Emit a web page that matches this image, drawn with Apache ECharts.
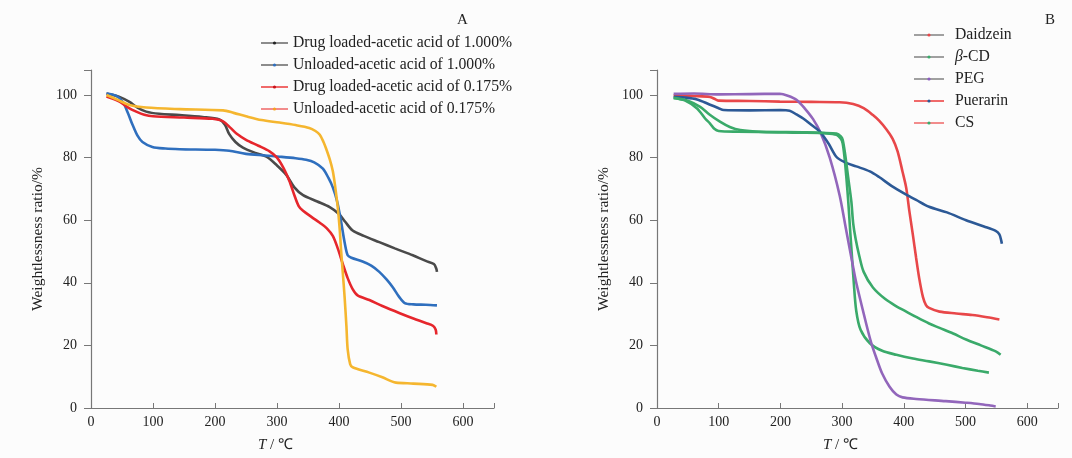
<!DOCTYPE html>
<html>
<head>
<meta charset="utf-8">
<script src="https://cdn.jsdelivr.net/npm/echarts@6/dist/echarts.min.js"></script>
<style>
html, body { margin: 0; padding: 0; background: #ffffff; }
#chart { width: 1072px; height: 458px; }
</style>
</head>
<body>
<div id="chart"></div>
<script>
// 图 A
const namesA = ["Drug loaded-acetic acid of 1.000%", "Unloaded-acetic acid of 1.000%", "Drug loaded-acetic acid of 0.175%", "Unloaded-acetic acid of 0.175%"];
const drugLoaded1000 = [[25,100.5],[45,99.5],[62,97.8],[75,96],[89,94.7],[110,94],[143,93.6],[180,93],[207,92.2],[216,90.5],[223,87.5],[233,85],[245,83.2],[265,81.5],[283,80.3],[300,77.5],[315,74.5],[328,70.5],[342,68],[365,66],[385,64.2],[400,62],[410,59.5],[422,56.7],[440,55],[465,53],[490,51],[519,48.8],[540,47],[553,46],[557,44.5],[558,43.5]];
const unloaded1000 = [[25,100.5],[40,99.8],[51,97.9],[60,94],[67,90.5],[75,87],[83,85],[99,83.4],[120,82.9],[143,82.7],[200,82.5],[223,82.2],[250,81.2],[280,80.7],[304,80.3],[330,79.8],[347,79.3],[360,78.5],[374,76.5],[383,73.5],[390,70.5],[397,66],[403,60],[409,53],[414,48.8],[420,48],[438,46.8],[452,45.5],[465,43.5],[477,41],[487,38.5],[497,35.5],[506,33.5],[520,33.1],[540,33],[558,32.8]];
const drugLoaded0175 = [[25,99.5],[46,97.9],[60,96],[73,94.7],[86,93.7],[100,93.2],[150,92.8],[196,92.4],[213,91.6],[225,89.5],[234,87.8],[250,85.7],[270,83.8],[288,82],[300,80],[311,76.5],[320,72.5],[328,68],[335,64.5],[342,63],[356,61],[369,59.2],[380,57.5],[390,55],[398,51],[406,46.1],[414,41.5],[422,38],[430,36],[449,34.5],[470,32.6],[498,30.3],[520,28.6],[541,27.1],[552,26.2],[556,25],[557,23.5]];
const unloaded0175 = [[25,100],[45,98.3],[62,96.8],[89,96],[143,95.5],[213,95.1],[230,94.3],[250,93.2],[275,92],[304,91.2],[330,90.4],[352,89.5],[362,88.5],[369,87.3],[375,85],[379,83],[385,79.5],[390,75.7],[394,70.5],[398,64.1],[401,57.5],[403,51.4],[406,43.5],[409,35.6],[412,26],[414,18.7],[418,14],[422,13],[449,11.3],[470,9.8],[485,8.5],[492,8.1],[520,7.8],[551,7.4],[557,6.8]];

// 图 B
const namesB = ["Daidzein", "β-CD", "PEG", "Puerarin", "CS"];
const daidzein = [[27,99.9],[60,99.7],[86,99.4],[95,98.6],[100,98.2],[150,98.1],[199,97.9],[250,97.8],[296,97.7],[318,97.1],[335,95.8],[350,93.6],[360,91.8],[372,89],[382,86],[390,82],[398,75.5],[404,70.3],[409,63],[415,55],[420,48],[425,41.5],[431,35.5],[436,32.9],[441,32],[458,30.8],[485,30.2],[511,29.7],[535,29],[555,28.3]];
const betaCD = [[27,99.1],[45,98.3],[65,95.7],[78,92.5],[86,90.9],[93,89.2],[100,88.5],[130,88.3],[200,88.2],[242,88.1],[270,87.8],[291,87.3],[298,86],[301,84.5],[304,80],[307,73.5],[310,66],[313,57],[315,51.3],[319,40],[323,31],[330,25],[345,20.7],[365,18.3],[388,17],[415,15.8],[441,14.9],[470,13.8],[495,12.8],[520,11.9],[538,11.3]];
const peg = [[27,100.4],[60,100.5],[100,100.2],[150,100.3],[199,100.4],[212,99.8],[226,98.5],[240,95.6],[253,92.3],[265,88],[280,80],[296,68],[306,57.5],[317,46],[323,40],[339,27],[347,21],[355,16.3],[365,11],[377,6.8],[388,4.3],[398,3.4],[420,2.9],[468,2.2],[500,1.7],[522,1.3],[540,0.8],[549,0.5]];
const puerarin = [[27,99.4],[45,99.2],[65,98.6],[85,97],[100,95.8],[108,95.2],[150,95.1],[200,95.2],[215,95],[226,93.8],[237,92.5],[250,90.5],[264,88.3],[278,84.5],[291,80.2],[305,78.5],[323,77.2],[345,75.6],[360,73.8],[380,71],[404,68.2],[420,66.5],[441,64.3],[470,62.5],[501,60],[530,58],[549,56.6],[555,55.5],[558,53.5],[559,52.5]];
const cs = [[27,99.1],[50,98.2],[70,96.2],[85,93.8],[102,91.5],[118,89.8],[135,88.8],[170,88.2],[220,88],[270,87.9],[291,87.7],[298,86.8],[301,85.7],[305,81],[310,73.5],[315,66],[318,59],[322,54],[328,48.5],[335,43.5],[350,38.5],[370,34.8],[388,32.5],[404,30.8],[420,29.1],[441,27],[458,25.6],[480,23.8],[501,21.9],[525,20],[549,18.1],[557,17]];

const xTicks = [0, 100, 200, 300, 400, 500, 600];
const yTicks = [0, 20, 40, 60, 80, 100];

const font = "Liberation Serif";
const colorsA = ["#4a4a4a", "#2f6fbe", "#e6262c", "#f5b62f"];
const colorsB = ["#e84749", "#3aaa6a", "#9266bb", "#2c5996", "#3aaa6a"];
// 图例的线和点颜色不一样，照原图
const legendLineA = ["#8c8c8c", "#8c8c8c", "#f06a6a", "#f28c8c"];
const legendDotA = ["#222222", "#2f6fbe", "#c8121a", "#f5a31f"];
const legendLineB = ["#a0a0a0", "#a0a0a0", "#a0a0a0", "#f06a6a", "#f28c8c"];
const legendDotB = ["#e84749", "#3aaa6a", "#8a5cc0", "#2c5996", "#3aaa6a"];

const myChart = echarts.init(document.getElementById("chart"));

const xAxisBase = (gridIndex) => ({
	type: "value",
	gridIndex: gridIndex,
	min: 0,
	max: 650,
	interval: 100,
	name: "{i|T} / ℃",
	nameLocation: "middle",
	nameGap: 30,
	nameTextStyle: {
		fontFamily: font,
		fontSize: 15,
		color: "#222",
		padding: [0, 34, 0, 0],
		rich: { i: { fontStyle: "italic", fontFamily: font, fontSize: 15, color: "#222" } }
	},
	axisLine: { lineStyle: { color: "#777", width: 1.2 } },
	axisTick: { inside: true, length: 5, lineStyle: { color: "#777" } },
	axisLabel: {
		fontFamily: font,
		fontSize: 14,
		color: "#222",
		margin: 7,
		formatter: (v) => (xTicks.indexOf(v) > -1 ? v : "")
	},
	splitLine: { show: false }
});

const yAxisBase = (gridIndex) => ({
	type: "value",
	gridIndex: gridIndex,
	min: 0,
	max: 108,
	interval: 20,
	name: "Weightlessness ratio/%",
	nameLocation: "middle",
	nameGap: 45,
	nameTextStyle: { fontFamily: font, fontSize: 15.5, color: "#222" },
	axisLine: { show: true, lineStyle: { color: "#777", width: 1.2 } },
	axisTick: { show: true, length: 7, lineStyle: { color: "#777" } },
	axisLabel: {
		fontFamily: font,
		fontSize: 14,
		color: "#222",
		margin: 14,
		formatter: (v) => (yTicks.indexOf(v) > -1 ? v : "")
	},
	splitLine: { show: false }
});

const lineSeries = (name, data, color, idx) => ({
	name: name,
	type: "line",
	xAxisIndex: idx,
	yAxisIndex: idx,
	data: data,
	smooth: 0.3,
	symbol: "circle",
	showSymbol: false,
	lineStyle: { color: color, width: 2.6 },
	itemStyle: { color: color }
});

const dataA = [drugLoaded1000, unloaded1000, drugLoaded0175, unloaded0175];
const dataB = [daidzein, betaCD, peg, puerarin, cs];

const option = {
	backgroundColor: "#fcfcfc",
	animation: false,
	title: [
		{ text: "A", left: 452, top: 8, textStyle: { fontFamily: font, fontSize: 15, fontWeight: "normal", color: "#222" } },
		{ text: "B", left: 1040, top: 8, textStyle: { fontFamily: font, fontSize: 15, fontWeight: "normal", color: "#222" } }
	],
	legend: [
		{
			orient: "vertical",
			left: 260,
			top: 35,
			padding: 0,
			itemWidth: 27,
			itemHeight: 4,
			itemGap: 6,
			textStyle: { fontFamily: font, fontSize: 15.7, color: "#222" },
			data: namesA.map((n, i) => ({
				name: n,
				itemStyle: { color: legendDotA[i] },
				lineStyle: { color: legendLineA[i], width: 2 }
			}))
		},
		{
			orient: "vertical",
			left: 913,
			top: 27,
			padding: 0,
			itemWidth: 30,
			itemHeight: 4,
			itemGap: 6,
			textStyle: {
				fontFamily: font,
				fontSize: 15.7,
				color: "#222",
				padding: [0, 0, 0, 6],
				rich: { i: { fontStyle: "italic", fontFamily: font, fontSize: 15.7, color: "#222" } }
			},
			formatter: (n) => (n === "β-CD" ? "{i|β}-CD" : n),
			data: namesB.map((n, i) => ({
				name: n,
				itemStyle: { color: legendDotB[i] },
				lineStyle: { color: legendLineB[i], width: 2 }
			}))
		}
	],
	grid: [
		{ left: 91, right: 578, top: 70, bottom: 46 },
		{ left: 657, right: 14, top: 70, bottom: 46 }
	],
	xAxis: [xAxisBase(0), xAxisBase(1)],
	yAxis: [yAxisBase(0), yAxisBase(1)],
	series: [
		...namesA.map((n, i) => lineSeries(n, dataA[i], colorsA[i], 0)),
		...namesB.map((n, i) => lineSeries(n, dataB[i], colorsB[i], 1))
	]
};

myChart.setOption(option);
</script>
</body>
</html>
